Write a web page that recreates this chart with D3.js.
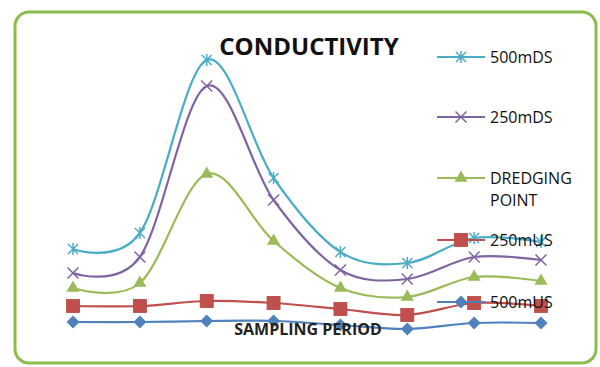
<!DOCTYPE html>
<html>
<head>
<meta charset="utf-8">
<script src="https://cdn.jsdelivr.net/npm/d3@7"></script>
<style>
  html, body { margin: 0; padding: 0; background: #fff; }
  svg { display: block; }
</style>
</head>
<body>
<svg id="chart" width="600" height="367"></svg>
<script>
// Sampling periods along the x axis (no tick labels are drawn)
const periods = [1, 2, 3, 4, 5, 6, 7, 8];

// Conductivity readings per station
const s500mDS   = [480, 560, 1425, 835, 465, 410, 535, 515];
const s250mDS   = [360, 440, 1295, 725, 375, 330, 440, 425];
const sDredging = [285, 310, 855, 520, 285, 240, 340, 320];
const s250mUS   = [195, 195, 220, 210, 180, 150, 210, 195];
const s500mUS   = [115, 115, 120, 120, 100, 80, 110, 110];

const seriesNames = ["500mDS", "250mDS", "DREDGING POINT", "250mUS", "500mUS"];

const series = [
  { name: seriesNames[0], values: s500mDS,   color: "#4bacc6", marker: "star" },
  { name: seriesNames[1], values: s250mDS,   color: "#8064a2", marker: "x" },
  { name: seriesNames[2], values: sDredging, color: "#9bbb59", marker: "triangle" },
  { name: seriesNames[3], values: s250mUS,   color: "#c0504d", marker: "square" },
  { name: seriesNames[4], values: s500mUS,   color: "#4f81bd", marker: "diamond" }
];

const svg = d3.select("#chart");

// Rounded green frame around the chart
svg.append("rect")
  .attr("x", 15).attr("y", 12)
  .attr("width", 581).attr("height", 351)
  .attr("rx", 14).attr("ry", 14)
  .attr("fill", "#fff")
  .attr("stroke", "#8cbb4e")
  .attr("stroke-width", 3);

const x = d3.scalePoint().domain(periods).range([73, 541]);
const y = d3.scaleLinear().domain([0, 1500]).range([345, 45]);

const line = d3.line()
  .x((d, i) => x(periods[i]))
  .y(d => y(d))
  .curve(d3.curveCatmullRom.alpha(0));

function drawMarker(g, type, color) {
  if (type === "star") {
    g.append("path").attr("d", "M-5,-5L5,5M-5,5L5,-5M0,-6L0,6")
      .attr("stroke", color).attr("stroke-width", 1.5).attr("fill", "none");
  } else if (type === "x") {
    g.append("path").attr("d", "M-5.5,-5.5L5.5,5.5M-5.5,5.5L5.5,-5.5")
      .attr("stroke", color).attr("stroke-width", 1.5).attr("fill", "none");
  } else if (type === "triangle") {
    g.append("path").attr("d", d3.symbol(d3.symbolTriangle, 75)())
      .attr("fill", color);
  } else if (type === "square") {
    g.append("rect").attr("x", -6.5).attr("y", -6.5).attr("width", 13).attr("height", 13)
      .attr("fill", color).attr("stroke", "#b7453f").attr("stroke-width", 0.8);
  } else if (type === "diamond") {
    g.append("path").attr("d", "M0,-6.5L6.5,0L0,6.5L-6.5,0Z").attr("fill", color);
  }
}

// Series lines and markers
const plot = svg.append("g");
series.slice().reverse().forEach(s => {
  plot.append("path")
    .attr("d", line(s.values))
    .attr("fill", "none")
    .attr("stroke", s.color)
    .attr("stroke-width", 2.2);
  s.values.forEach((v, i) => {
    const g = plot.append("g").attr("transform", `translate(${x(periods[i])},${y(v)})`);
    drawMarker(g, s.marker, s.color);
  });
});

// Title
svg.append("text")
  .attr("x", 309).attr("y", 55)
  .attr("text-anchor", "middle")
  .attr("font-family", "Open Sans, sans-serif")
  .attr("font-weight", "bold")
  .attr("font-size", 24)
  .attr("fill", "#111")
  .text("CONDUCTIVITY");

// X axis title
svg.append("text")
  .attr("x", 308).attr("y", 335)
  .attr("text-anchor", "middle")
  .attr("font-family", "Open Sans, sans-serif")
  .attr("font-weight", "bold")
  .attr("font-size", 16)
  .attr("fill", "#222")
  .text("SAMPLING PERIOD");

// Legend
const legendRows = [
  { y: 57,  lines: ["500mDS"] },
  { y: 117, lines: ["250mDS"] },
  { y: 178, lines: ["DREDGING", "POINT"] },
  { y: 240, lines: ["250mUS"] },
  { y: 302, lines: ["500mUS"] }
];

const legend = svg.append("g");
series.forEach((s, i) => {
  const row = legendRows[i];
  const g = legend.append("g").attr("transform", `translate(0,${row.y})`);
  g.append("line").attr("x1", 437).attr("x2", 485).attr("y1", 0).attr("y2", 0)
    .attr("stroke", s.color).attr("stroke-width", 2.2);
  const m = g.append("g").attr("transform", "translate(461,0)");
  drawMarker(m, s.marker, s.color);
  row.lines.forEach((t, j) => {
    g.append("text")
      .attr("x", 490).attr("y", j * 22 + 6)
      .attr("font-family", "Open Sans, sans-serif")
      .attr("font-size", 16)
      .attr("fill", "#111")
      .text(t);
  });
});
</script>
</body>
</html>
